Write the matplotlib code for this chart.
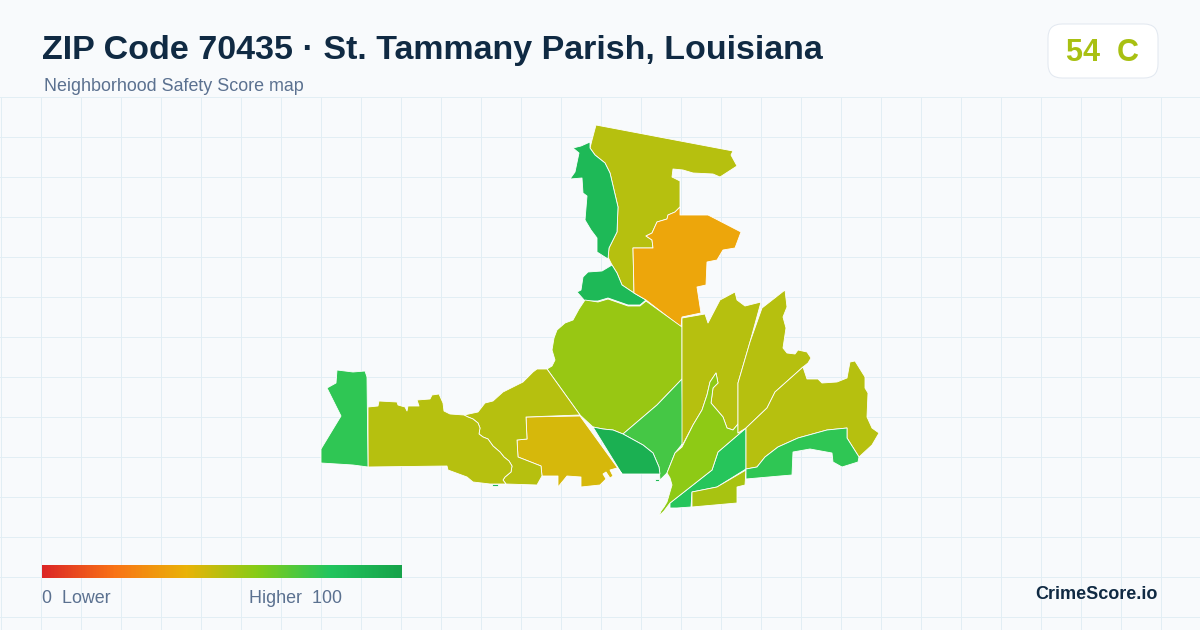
import numpy as np
import matplotlib
matplotlib.use('Agg')
import matplotlib.pyplot as plt
from matplotlib.colors import LinearSegmentedColormap
from matplotlib.patches import FancyBboxPatch, Polygon

plt.rcParams['font.family'] = ['Liberation Sans', 'DejaVu Sans']

title = 'ZIP Code 70435 · St. Tammany Parish, Louisiana'
subtitle = 'Neighborhood Safety Score map'
score_text = '54  C'

#colori della scala
stops = [0, 0.2, 0.4, 0.6, 0.8, 1]
stop_colors = ['#dc2626', '#f97316', '#eab308', '#84cc16', '#22c55e', '#16a34a']

#contorni delle zone, in pixel dell'immagine
north = [(596,125),(733,151),(731,155),(737,166),(720,177),(713,174),(693,173),(683,170),(673,169),
         (672,177),(680,181),(680,207),(675,212),(668,215),(667,219),(657,222),(652,233),(646,236),
         (652,240),(653,248),(633,248),(634,293),(622,285),(617,273),(612,265),(608,257),(609,248),
         (617,232),(618,207),(610,173),(605,163),(595,155),(590,148),(592,140)]
northwest = [(590,142),(581,146),(573,148),(579,153),(575,172),(570,179),(582,178),(583,193),(587,196),(585,220),
             (591,230),(597,238),(597,252),(608,259),(609,248),(617,232),(618,207),(610,173),(605,163),(595,155),(590,148)]
pocket = [(612,265),(602,271),(588,272),(583,277),(581,290),(577,292),(585,301),(598,301),(608,298),
          (628,305),(640,305),(646,300),(634,293),(622,285),(617,273)]
orange = [(680,207),(680,215),(708,215),(712,217),(741,232),(735,248),(723,250),(717,260),(707,262),
          (706,285),(697,287),(701,313),(682,317),(681,327),(646,300),(634,293),(633,248),(653,248),
          (652,240),(646,236),(652,233),(657,222),(667,219),(668,215),(675,212)]
central = [(585,300),(598,302),(608,299),(628,306),(640,306),(646,301),(682,327),(682,379),(657,405),
           (623,434),(613,430),(603,429),(593,427),(580,415),(547,369),(552,366),(555,360),(552,350),(554,338),
           (557,330),(565,323),(573,320),(579,309)]
wedge = [(682,379),(683,443),(675,453),(667,473),(660,480),(659,467),(653,453),(643,445),(623,434),(657,405)]
south_mid = [(593,427),(603,429),(613,430),(623,434),(643,445),(653,453),(659,467),(660,474),(622,474)]
gold = [(526,417),(580,416),(622,474),(617,468),(610,470),(613,476),(610,478),(606,472),(603,474),(606,479),(600,485),
        (581,487),(581,477),(567,476),(558,487),(558,476),(542,476),(541,466),(518,457),(517,440),(527,439)]
west_mid = [(537,369),(547,369),(580,415),(526,417),(527,439),(517,440),(518,457),(541,466),(542,476),
            (537,485),(506,484),(503,480),(505,477),(511,472),(512,466),(509,461),(504,457),(500,452),(493,446),
            (488,439),(483,437),(479,434),(480,428),(478,423),(473,419),(468,417),(464,415),(478,412),(485,403),
            (493,401),(503,392),(513,387),(523,382),(533,372)]
west = [(368,407),(378,406),(379,401),(397,402),(398,405),(405,407),(407,411),(408,406),(419,406),
        (417,400),(430,399),(432,395),(439,394),(443,403),(444,411),(450,414),(464,415),(468,417),(473,419),
        (478,423),(480,428),(479,434),(483,437),(488,439),(493,446),(500,452),(504,457),(509,461),(512,466),
        (511,472),(505,477),(503,480),(506,484),(490,484),(473,482),(467,477),(448,470),(447,466),(368,467)]
far_west = [(337,370),(353,372),(365,371),(367,377),(368,467),(353,465),(321,463),(321,449),(341,416),
            (327,388),(336,383)]
east_a = [(682,318),(705,314),(708,323),(720,300),(735,292),(737,300),(745,306),(761,302),(750,342),
          (738,383),(738,424),(733,430),(727,428),(723,417),(711,403),(713,388),(718,383),(716,373),
          (710,382),(707,395),(702,410),(693,425),(682,446)]
delta = [(746,428),(746,469),(717,487),(692,492),(691,507),(677,508),(670,508),(670,503),(712,470),(718,452)]
south_tip = [(692,492),(717,487),(746,470),(745,485),(737,487),(737,503),(692,507)]
river = [(716,373),(718,383),(713,388),(711,403),(723,417),(727,428),(733,430),(738,424),(738,433),
         (746,428),(718,452),(712,470),(670,503),(664,511),(659,516),(661,511),(664,507),(667,502),(672,485),
         (670,478),(667,473),(675,453),(682,447),(693,425),(702,410),(707,395),(710,382)]
east_b = [(762,308),(785,290),(787,307),(783,317),(786,328),(783,348),(787,353),(795,354),(798,350),
          (807,352),(811,358),(808,363),(803,367),(775,392),(767,408),(746,428),(738,433),(738,383),(750,342)]
east_c = [(803,367),(807,379),(818,379),(822,383),(837,382),(847,378),(850,362),(855,361),(865,377),
          (865,388),(868,393),(867,417),(872,428),(879,433),(872,445),(859,457),(847,438),(847,428),
          (827,430),(798,438),(778,447),(765,457),(757,467),(746,469),(746,428),(767,408),(775,392)]
shore = [(746,469),(757,467),(765,457),(778,447),(798,438),(827,430),(847,428),(847,438),(859,457),
         (858,462),(842,467),(833,462),(832,453),(810,449),(793,452),(792,475),(780,476),(746,479)]
speck_a = [(492,484),(498,484),(498,486),(492,486)]
speck_b = [(655,479),(659,479),(659,481),(655,481)]

zones = [north, northwest, pocket, orange, central, wedge, south_mid, gold, west_mid, west, far_west,
         east_a, delta, south_tip, river, east_b, east_c, shore, speck_a, speck_b]
scores = [50, 87, 87, 36, 56, 73, 92, 44, 50, 50, 77, 50, 79, 53, 58, 50, 50, 77, 87, 87]

cmap = LinearSegmentedColormap.from_list('safety', list(zip(stops, stop_colors)))

fig = plt.figure(figsize=(12, 6.3), dpi=100, facecolor='#f8fafc')
ax = fig.add_axes([0, 0, 1, 1])
ax.set_xlim(0, 1200)
ax.set_ylim(630, 0)
ax.axis('off')

#griglia di sfondo
for x in range(0, 1200, 40):
    ax.plot([x + 0.5, x + 0.5], [97, 630], color='#e2eef4', lw=0.72, zorder=1)
for y in range(96, 630, 40):
    ax.plot([0, 1200], [y + 0.5, y + 0.5], color='#e2eef4', lw=0.72, zorder=1)

for zone, score in zip(zones, scores):
    ax.add_patch(Polygon(zone, closed=True, facecolor=cmap(score / 100), edgecolor='white',
                         lw=0.6, joinstyle='round', zorder=2))

ax.text(42, 51, title, fontsize=24.5, fontweight='bold', color='#102a43', va='center', ha='left')
ax.text(44, 86.5, subtitle, fontsize=12.9, color='#5b7190', va='center', ha='left')

ax.add_patch(FancyBboxPatch((1062, 38), 82, 26, boxstyle='round,pad=14,rounding_size=14',
                            facecolor='white', edgecolor='#e2e8f0', lw=0.72, zorder=3))
ax.text(1103, 53, score_text, fontsize=22, fontweight='bold', color='#a8c012', va='center', ha='center', zorder=4)

#barra della legenda
ramp = np.linspace(0, 1, 360).reshape(1, -1)
ax.imshow(ramp, cmap=cmap, extent=(42, 402, 578, 565), aspect='auto', zorder=3)
ax.set_xlim(0, 1200)
ax.set_ylim(630, 0)
ax.text(42, 598.5, '0  Lower', fontsize=12.9, color='#5b7190', va='center', ha='left')
ax.text(249, 598.5, 'Higher  100', fontsize=12.9, color='#5b7190', va='center', ha='left')
ax.text(1158, 594.5, 'CrimeScore.io', fontsize=13, fontweight='bold', color='#102a43', va='center', ha='right')

fig.savefig('out.png', dpi=100, facecolor=fig.get_facecolor())
